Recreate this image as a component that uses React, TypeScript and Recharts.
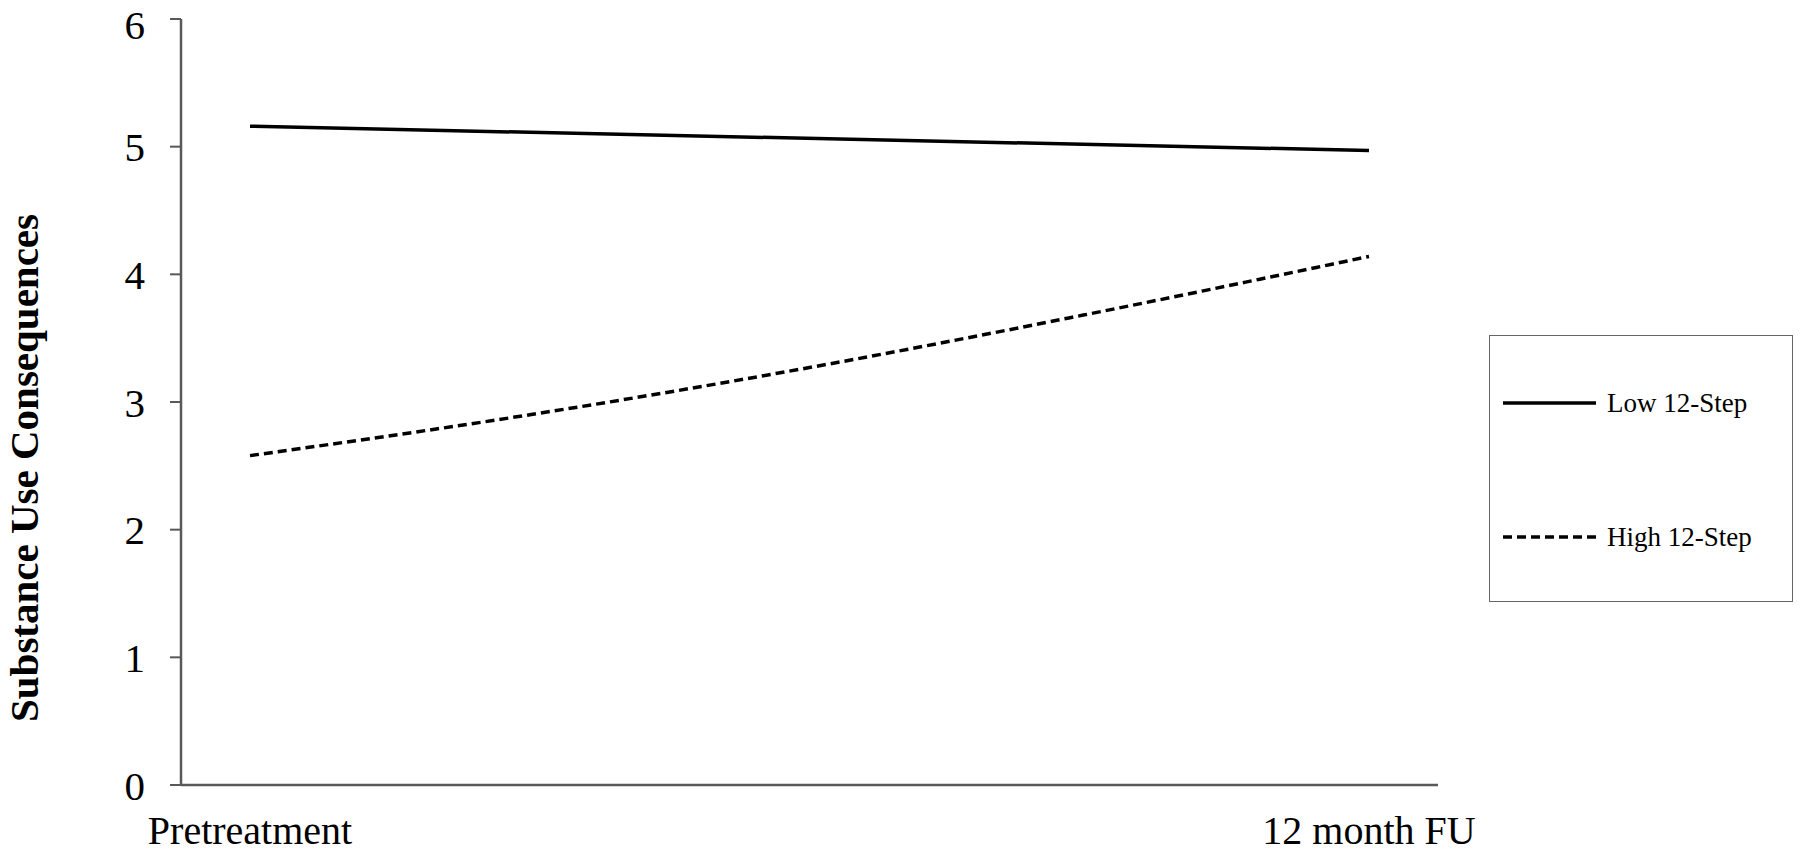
import React from "react";
import { Legend, Line, LineChart, XAxis, YAxis } from "recharts";

// months since pretreatment
const months = [0, 3, 6, 9, 12];
const lowTwelveStep = [5.16, null, null, null, 4.97];
const highTwelveStep = [2.58, 2.9, 3.27, 3.69, 4.14];
const xTickLabels: Record<number, string> = { 0: "Pretreatment", 12: "12 month FU" };
const yTicks = [0, 1, 2, 3, 4, 5, 6];
const seriesNames = ["Low 12-Step", "High 12-Step"];

const chartData = months.map((m, i) => ({
  month: m,
  low: lowTwelveStep[i],
  high: highTwelveStep[i],
}));

const FONT = '"Liberation Serif", "Times New Roman", serif';

const XTick = (props: any) => {
  const { x, y, payload } = props;
  return (
    <text x={x} y={y + 59} textAnchor="middle" fontFamily={FONT} fontSize={40} fill="#000">
      {xTickLabels[payload.value]}
    </text>
  );
};

const YLabel = (props: any) => {
  const { viewBox } = props;
  const cx = 38;
  const cy = viewBox.y + viewBox.height / 2 + 66;
  return (
    <text
      x={cx}
      y={cy}
      transform={`rotate(-90, ${cx}, ${cy})`}
      textAnchor="middle"
      fontFamily={FONT}
      fontWeight="bold"
      fontSize={41}
      fill="#000"
    >
      Substance Use Consequences
    </text>
  );
};

const LegendBox = () => (
  <div
    style={{
      width: 304,
      height: 267,
      boxSizing: "border-box",
      border: "1.5px solid #666",
      position: "relative",
      background: "#fff",
      fontFamily: FONT,
      fontSize: 27,
    }}
  >
    {seriesNames.map((name, i) => (
      <div key={name} style={{ position: "absolute", left: 13, top: i === 0 ? 50 : 184, height: 34, display: "flex", alignItems: "center" }}>
        <svg width={93} height={10} style={{ display: "block" }}>
          <line
            x1={0}
            y1={5}
            x2={93}
            y2={5}
            stroke="#000"
            strokeWidth={3.5}
            strokeDasharray={i === 0 ? undefined : "9 5"}
          />
        </svg>
        <span style={{ marginLeft: 11, whiteSpace: "nowrap" }}>{name}</span>
      </div>
    ))}
  </div>
);

export default function App() {
  return (
    <div style={{ width: 1800, height: 854, background: "#fff" }}>
      <style>{`body{margin:0;background:#fff}`}</style>
      <LineChart width={1800} height={854} data={chartData} margin={{ top: 19, right: 58, left: 0, bottom: 0 }}>
        <XAxis
          xAxisId="top"
          orientation="top"
          dataKey="month"
          type="number"
          domain={[0, 12]}
          height={0}
          tick={false}
          tickLine={false}
          axisLine={{ stroke: "#8c8c8c", strokeWidth: 3 }}
          padding={{ left: 69, right: 69 }}
        />
        <XAxis
          dataKey="month"
          type="number"
          domain={[0, 12]}
          ticks={[0, 12]}
          height={69}
          tickSize={0}
          tickMargin={0}
          tickLine={false}
          tick={<XTick />}
          axisLine={{ stroke: "#595959", strokeWidth: 2.5 }}
          padding={{ left: 69, right: 69 }}
        />
        <YAxis
          yAxisId="right"
          orientation="right"
          width={0}
          domain={[0, 6]}
          tick={false}
          tickLine={false}
          axisLine={{ stroke: "#8c8c8c", strokeWidth: 3 }}
        />
        <YAxis
          domain={[0, 6]}
          ticks={yTicks}
          width={181}
          tickSize={11}
          tickMargin={25}
          tickLine={{ stroke: "#595959", strokeWidth: 2 }}
          axisLine={{ stroke: "#595959", strokeWidth: 2.5 }}
          tick={{ fill: "#000", fontSize: 41, fontFamily: FONT }}
          label={<YLabel />}
        />
        <Legend
          layout="vertical"
          align="right"
          verticalAlign="middle"
          content={<LegendBox />}
          wrapperStyle={{ left: 1489, top: 335, right: "auto", bottom: "auto", width: 304, height: 267 }}
        />
        <Line
          type="monotone"
          dataKey="low"
          name={seriesNames[0]}
          stroke="#000"
          strokeWidth={3.5}
          dot={false}
          connectNulls
          isAnimationActive={false}
        />
        <Line
          type="monotone"
          dataKey="high"
          name={seriesNames[1]}
          stroke="#000"
          strokeWidth={3.5}
          strokeDasharray="9 5"
          dot={false}
          isAnimationActive={false}
        />
      </LineChart>
    </div>
  );
}
